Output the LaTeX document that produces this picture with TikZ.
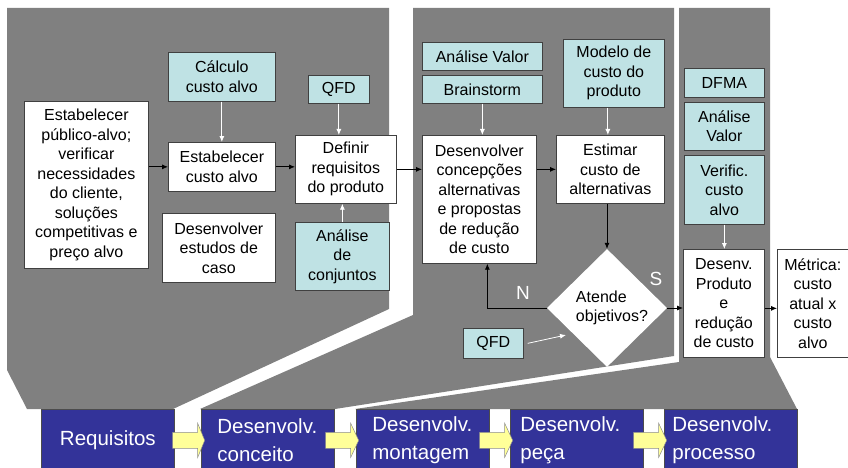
\documentclass[tikz,border=0pt]{standalone}
\usepackage{fontspec}
\setmainfont{Liberation Sans}
\usetikzlibrary{arrows.meta,shapes.geometric}
\definecolor{bggray}{RGB}{128,128,128}
\definecolor{tealbox}{RGB}{191,226,228}
\definecolor{phaseblue}{RGB}{51,51,153}
\definecolor{arrowyellow}{RGB}{255,255,153}
\begin{document}
\begin{tikzpicture}[x=1pt,y=-1pt,
  sz/.style 2 args={minimum width=#1pt, minimum height=#2pt},
  wbox/.style={draw=black!75, line width=0.7pt, fill=white, align=center, inner sep=0pt,
    anchor=north west, font=\fontsize{16}{19.5}\selectfont},
  tbox/.style={wbox, fill=tealbox},
  phase/.style={draw=black!70, line width=0.7pt, fill=phaseblue, text=white, anchor=north west,
    minimum height=62pt, inner ysep=0pt, align=left, font=\fontsize{20.5}{27.5}\selectfont},
  lbl/.style={text=white, inner sep=0pt, font=\fontsize{19}{22}\selectfont},
  blk/.style={draw=black, line width=0.8pt, -{Latex[length=6pt,width=5pt]}},
  wht/.style={draw=white, line width=0.8pt, -{Latex[length=6pt,width=5pt]}},
  yarrow/.style={draw=black!45, line width=0.5pt, fill=arrowyellow}
]
\useasboundingbox (0,0) rectangle (848,468);

% gray phase regions
\fill[bggray] (7,8) -- (389,8) -- (389,309) -- (173,409) -- (27,409) -- (7,370) -- cycle;
\fill[bggray] (413,8) -- (674,8) -- (674,356) -- (335,409) -- (200,409) -- (413,315) -- cycle;
\fill[bggray] (679,8) -- (770,8) -- (770,357) -- (797,409) -- (355,409) -- (679,362) -- cycle;

% region 1
\node[wbox, sz={124}{167}] (pub) at (24,101) {Estabelecer\\público-alvo;\\verificar\\necessidades\\do cliente,\\soluções\\competitivas e\\preço alvo};
\node[tbox, sz={107}{49}] (calc) at (168,52) {Cálculo\\custo alvo};
\node[wbox, sz={107}{49}] (estab) at (168,142) {Estabelecer\\custo alvo};
\node[wbox, sz={113}{69}] (estud) at (162,213) {Desenvolver\\estudos de\\caso};
\node[tbox, sz={61}{28}] (qfdA) at (308,75) {QFD};
\node[wbox, sz={101}{68}] (defin) at (295,135) {Definir\\requisitos\\do produto};
\node[tbox, sz={94}{68}] (conj) at (295,222) {Análise\\de\\conjuntos};

% region 2
\node[tbox, sz={120}{28}] (avA) at (422,42) {Análise Valor};
\node[tbox, sz={120}{28}] (brain) at (422,75) {Brainstorm};
\node[tbox, sz={101}{68}] (model) at (563,39) {Modelo de\\custo do\\produto};
\node[wbox, sz={114}{128}] (conc) at (422,135) {Desenvolver\\concepções\\alternativas\\e propostas\\de redução\\de custo};
\node[wbox, sz={108}{68}] (estim) at (556,135) {Estimar\\custo de\\alternativas};
\node[diamond, fill=white, inner sep=0pt, minimum width=120pt, minimum height=118pt, align=left,
  font=\fontsize{16}{19.5}\selectfont] (atende) at (607,308) {\hspace*{10pt}Atende\\\hspace*{10pt}objetivos?};
\node[tbox, sz={60}{30}] (qfdB) at (463,328) {QFD};
\coordinate (qtip) at (566,335);
\node[lbl] (labN) at (523,293) {N};
\node[lbl] (labS) at (656,279) {S};

% region 3
\node[tbox, sz={80}{29}] (dfma) at (684,68) {DFMA};
\node[tbox, sz={80}{48}] (avB) at (684,102) {Análise\\Valor};
\node[tbox, sz={80}{69}] (verif) at (684,155) {Verific.\\custo\\alvo};
\node[wbox, sz={81}{108}] (prod) at (683,249) {Desenv.\\Produto\\e\\redução\\de custo};
\node[wbox, sz={71}{108}] (metr) at (777,249) {Métrica:\\custo\\atual x\\custo\\alvo};

% connectors
\draw[blk] (pub.east |- estab.west) -- (estab.west);
\draw[blk] (estab.east) -- (estab.east -| defin.west);
\draw[blk] (defin.east) -- (defin.east -| conc.west);
\draw[blk] (conc.east |- estim.west) -- (estim.west);
\draw[blk] (estim.south -| atende.north) -- (atende.north);
\draw[blk] (atende.west) -| ([xshift=8pt]conc.south);
\draw[blk] (atende.east) -- (atende.east -| prod.west);
\draw[blk] ([yshift=-5pt]prod.east) -- ([yshift=-5pt]metr.west);

\draw[wht] (calc.south) -- (estab.north);
\draw[wht] (qfdA.south) -- (qfdA.south |- defin.north);
\draw[wht] (conj.north) -- (conj.north |- defin.south);
\draw[wht] (brain.south) -- (brain.south |- conc.north);
\draw[wht] ([xshift=-6pt]model.south) -- ([xshift=-6pt]model.south |- estim.north);
\draw[wht] (verif.south) -- (verif.south |- prod.north);
\draw[wht] ([xshift=4pt]qfdB.east) -- (qtip);

% phase bar
\node[phase, minimum width=133pt, align=center, inner xsep=0pt] (ph1) at (41,409) {Requisitos};
\node[phase, inner xsep=16pt, text width=101pt] (ph2) at (201,409) {Desenvolv.\\conceito};
\node[phase, inner xsep=16pt, text width=101pt] (ph3) at (356,409) {Desenvolv.\\montagem};
\node[phase, inner xsep=10pt, text width=113pt] (ph4) at (510,409) {Desenvolv.\\peça};
\node[phase, inner xsep=8pt, text width=117pt] (ph5) at (664,409) {Desenvolv.\\processo};

\draw[yarrow] ([xshift=-2pt]ph1.east) ++(0,-8) -- ++(25,0) -- ++(0,-9) -- ++(7,17) -- ++(-7,17) -- ++(0,-9) -- ++(-25,0) -- cycle;
\draw[yarrow] ([xshift=-9pt]ph2.east) ++(0,-8) -- ++(25,0) -- ++(0,-9) -- ++(8,17) -- ++(-8,17) -- ++(0,-9) -- ++(-25,0) -- cycle;
\draw[yarrow] ([xshift=-10pt]ph3.east) ++(0,-8) -- ++(25,0) -- ++(0,-9) -- ++(8,17) -- ++(-8,17) -- ++(0,-9) -- ++(-25,0) -- cycle;
\draw[yarrow] ([xshift=-10pt]ph4.east) ++(0,-8) -- ++(25,0) -- ++(0,-9) -- ++(8,17) -- ++(-8,17) -- ++(0,-9) -- ++(-25,0) -- cycle;
\end{tikzpicture}
\end{document}
